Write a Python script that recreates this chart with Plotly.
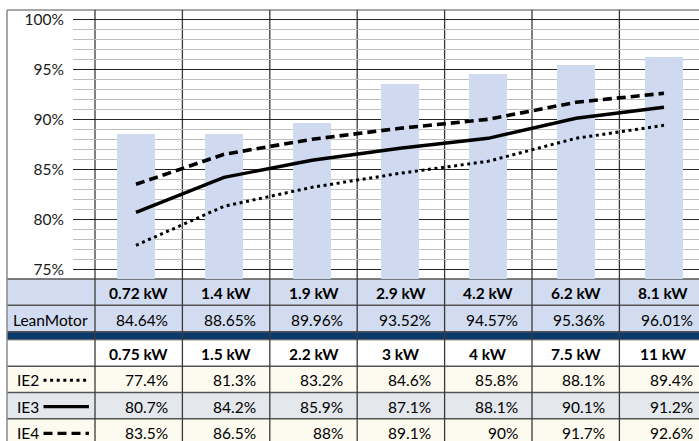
import plotly.graph_objects as go

# ---------------- data ----------------
lean_kw = ["0.72 kW", "1.4 kW", "1.9 kW", "2.9 kW", "4.2 kW", "6.2 kW", "8.1 kW"]
lean_eff = [84.64, 88.65, 89.96, 93.52, 94.57, 95.36, 96.01]
lean_bar = [88.5, 88.55, 89.65, 93.5, 94.5, 95.4, 96.25]  # bar heights as drawn
ie_kw = ["0.75 kW", "1.5 kW", "2.2 kW", "3 kW", "4 kW", "7.5 kW", "11 kW"]
ie2 = [77.4, 81.3, 83.2, 84.6, 85.8, 88.1, 89.4]
ie3 = [80.7, 84.2, 85.9, 87.1, 88.1, 90.1, 91.2]
ie4 = [83.5, 86.5, 88, 89.1, 90, 91.7, 92.6]
row_labels = ["IE2", "IE3", "IE4"]
y_ticks = [75, 80, 85, 90, 95, 100]

W, H = 699, 441
FONT = "Lato"
FS = 15.5


def px(x):
    return x / W


def py(y):
    return (H - y) / H


idx = list(range(len(lean_kw)))

fig = go.Figure()
fig.add_trace(go.Bar(x=idx, y=lean_bar, width=0.43, marker=dict(color="#CFDAF0", line=dict(width=0)),
                     showlegend=False, hoverinfo="skip"))
fig.add_trace(go.Scatter(x=idx, y=ie2, mode="lines", line=dict(color="black", width=3, dash="3px,3.6px"),
                         showlegend=False))
fig.add_trace(go.Scatter(x=idx, y=ie3, mode="lines", line=dict(color="black", width=3.4), showlegend=False))
fig.add_trace(go.Scatter(x=idx, y=ie4, mode="lines", line=dict(color="black", width=3.6, dash="9px,5px"),
                         showlegend=False))

shapes = []
annotations = []

# table geometry
col_w = 87.4
col_x0 = 95
ncols = len(lean_kw)
edges = [col_x0 + col_w * i for i in range(ncols + 1)]
rows = [279, 305.3, 331.8, 339.8, 366.2, 392.4, 418.8, 446]


def rect(x0, y0, x1, y1, color):
    shapes.append(dict(type="rect", xref="paper", yref="paper", x0=px(x0), x1=px(x1), y0=py(y1), y1=py(y0),
                       fillcolor=color, line=dict(width=0), layer="below"))


rect(7, rows[0], 720, rows[2], "#D2DCF0")
rect(7, rows[2], 720, rows[3], "#0A3A6C")
rect(7, rows[3], 720, rows[4], "#FFFFFF")
rect(7, rows[4], 720, rows[5], "#FDFBEF")
rect(7, rows[5], 720, rows[6], "#E4E7EC")
rect(7, rows[6], 720, rows[7], "#FDFBEF")


def hline(y, x0, x1, color, w):
    shapes.append(dict(type="line", xref="paper", yref="paper", x0=px(x0), x1=px(x1), y0=py(y), y1=py(y),
                       line=dict(color=color, width=w), layer="below"))


def vline(x, y0, y1, color, w):
    shapes.append(dict(type="line", xref="paper", yref="paper", x0=px(x), x1=px(x), y0=py(y0), y1=py(y1),
                       line=dict(color=color, width=w), layer="below"))


for r in [rows[0], rows[1], rows[2], rows[4], rows[5], rows[6]]:
    hline(r, 7, 720, "#555555", 1.5)
hline(rows[3], 7, 720, "#555555", 1)

# frame
hline(10, 7, 720, "#8A8A8A", 1.5)
vline(7, 10, 441, "#8A8A8A", 1.5)
# column borders
for e in edges[:-1]:
    vline(e, 10, 441, "#3A3A3A", 1.3)


def text(x, y, s, anchor, bold=False):
    annotations.append(dict(x=px(x), y=py(y), xref="paper", yref="paper", text=s, showarrow=False,
                            xanchor=anchor, yanchor="middle",
                            font=dict(family=FONT, size=FS, color="#000000",
                                      weight="bold" if bold else "normal")))


def mid(a, b):
    return (a + b) / 2


for i in range(ncols):
    cx = mid(edges[i], edges[i + 1])
    rx = edges[i + 1] - 12
    text(cx, mid(rows[0], rows[1]) + 1, lean_kw[i], "center", True)
    text(rx, mid(rows[1], rows[2]) + 1, f"{lean_eff[i]:.2f}%", "right")
    text(cx, mid(rows[3], rows[4]) + 1, ie_kw[i], "center", True)
    for j, series in enumerate([ie2, ie3, ie4]):
        text(rx, mid(rows[4 + j], rows[5 + j]) + 1, f"{series[i]:g}%", "right")

text(11, mid(rows[1], rows[2]) + 1, "LeanMotor", "left")
dashes = ["3px,3.6px", "solid", "9px,5px"]
widths = [3, 3.4, 3.4]
for j, lab in enumerate(row_labels):
    yc = mid(rows[4 + j], rows[5 + j]) + 1
    text(15, yc, lab, "left")
    shapes.append(dict(type="line", xref="paper", yref="paper", x0=px(43.5), x1=px(89), y0=py(yc), y1=py(yc),
                       line=dict(color="black", width=widths[j], dash=dashes[j])))

# axes geometry
x_left = 73
units = (W - x_left) / 88.0
r0 = -(136 - x_left) / 88.0
y_bottom_px, y_top_px = 279, 10
ylo = 75 - (y_bottom_px - 269.3) / 10
yhi = 100 + (19.3 - y_top_px) / 10

fig.update_layout(
    width=W, height=H,
    margin=dict(l=0, r=0, t=0, b=0),
    paper_bgcolor="white", plot_bgcolor="rgba(0,0,0,0)",
    bargap=0,
    showlegend=False,
    shapes=shapes, annotations=annotations,
    xaxis=dict(domain=[px(x_left), 1], range=[r0, r0 + units], showgrid=False, zeroline=False,
               showticklabels=False, showline=False, fixedrange=True),
    yaxis=dict(domain=[py(y_bottom_px), py(y_top_px)], range=[ylo, yhi], tickvals=y_ticks,
               ticktext=[f"{v}%" for v in y_ticks], showgrid=True, gridcolor="#262626", gridwidth=1.2,
               zeroline=False, showline=False, ticks="", ticklabelstandoff=8,
               tickfont=dict(family=FONT, size=FS, color="#1A1A1A"),
               minor=dict(dtick=1, tick0=75, showgrid=True, gridcolor="#BDBDBD", gridwidth=1),
               fixedrange=True),
)

fig.write_html("out.html", config={"displayModeBar": False},
               post_script="document.body.style.margin='0';document.body.style.overflow='hidden';")
